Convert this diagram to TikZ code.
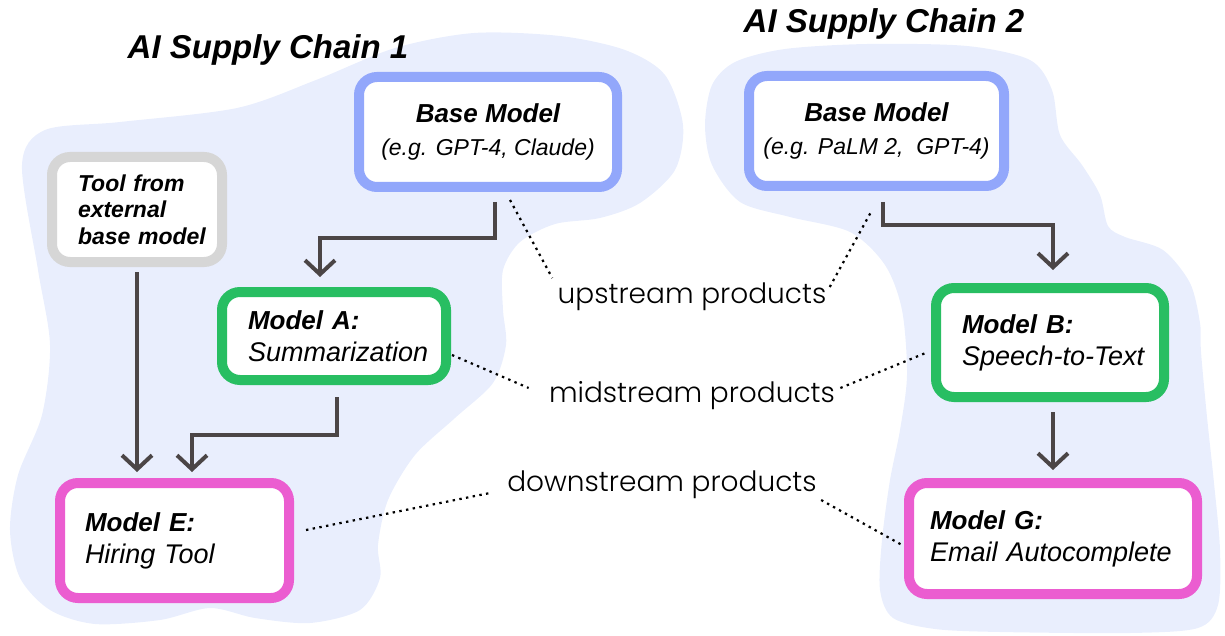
\documentclass[tikz,border=0pt]{standalone}
\usepackage{fontspec}
\setmainfont{Liberation Sans}
\newfontfamily\handfont{Poppins}[UprightFont=* Light]
\usetikzlibrary{arrows.meta}

\definecolor{blobbg}{HTML}{E9EEFD}
\definecolor{upblue}{HTML}{92A7FB}
\definecolor{midgreen}{HTML}{28BE62}
\definecolor{downpink}{HTML}{EB5DD0}
\definecolor{toolgray}{HTML}{D6D6D6}
\definecolor{arrowgray}{HTML}{4B4546}

\begin{document}
\begin{tikzpicture}[x=0.5pt,y=-0.5pt,
    box/.style={rounded corners=9pt,line width=5pt,fill=white,inner ysep=0pt},
    upbox/.style={box,draw=upblue,align=center,font=\fontsize{13}{16.5}\selectfont\itshape},
    toolbox/.style={box,draw=toolgray,align=left,inner xsep=13pt,font=\fontsize{11.5}{13.25}\selectfont\bfseries\itshape},
    midbox/.style={box,draw=midgreen,align=left,inner xsep=13pt,font=\fontsize{13.5}{16}\selectfont\itshape},
    downbox/.style={box,draw=downpink,align=left,inner xsep=12.5pt,font=\fontsize{13.5}{16}\selectfont\itshape},
    flow/.style={draw=arrowgray,line width=2pt,-{Straight Barb[length=7pt,width=15pt]}},
    dots/.style={dash pattern=on 1.2pt off 2.2pt,line width=1.1pt},
    stage/.style={font=\handfont\fontsize{14}{16}\selectfont,inner sep=0pt,anchor=base},
    chain/.style={font=\fontsize{16.5}{20}\selectfont\bfseries\itshape}]

  \useasboundingbox (0,0) rectangle (1225,636);

  % the two supply chains
  \fill[blobbg] plot[smooth cycle] coordinates {
    (22,165) (45,130) (120,122) (237,108) (316,80) (395,48) (474,33) (560,36)
    (625,50) (665,75) (683,125) (675,170) (640,203) (600,218) (555,224) (520,242)
    (503,270) (503,310) (506,345) (493,383) (455,418) (415,455) (388,500) (378,545)
    (380,578) (360,610) (310,623) (255,618) (210,608) (160,620) (95,624) (50,610)
    (20,578) (10,530) (18,475) (42,415) (50,345) (38,270)};
  \fill[blobbg] plot[smooth cycle] coordinates {
    (712,85) (735,62) (785,49) (867,44) (967,46) (1030,60) (1052,90) (1060,135)
    (1082,165) (1100,195) (1108,226) (1125,237) (1163,250) (1190,283) (1200,323)
    (1201,352) (1207,417) (1214,483) (1220,550) (1218,605) (1198,628) (1130,633)
    (1000,632) (935,629) (893,618) (880,590) (882,540) (890,480) (900,430)
    (907,375) (902,310) (885,265) (850,232) (790,217) (740,202) (712,165) (705,125)};

  \node[chain] (title1) at (268,50) {AI Supply Chain 1};
  \node[chain] (title2) at (884,24) {AI Supply Chain 2};

  \node[upbox, minimum width=129pt, minimum height=55pt] (base1) at (488,132)
    {{\bfseries Base Model}\\{\fontsize{11.5}{14}\selectfont (e.g. GPT-4, Claude)}};
  \node[upbox, minimum width=127.5pt, minimum height=55pt] (base2) at (876.5,131)
    {{\bfseries Base Model}\\{\fontsize{11.5}{14}\selectfont (e.g. PaLM 2,~ GPT-4)}};
  \node[toolbox, text width=59pt, minimum height=52.5pt] (tool) at (137,209.5)
    {Tool from\\ external\\ base~model};

  \node[midbox, text width=86pt, minimum height=44pt] (modelA) at (334,336)
    {{\bfseries\fontsize{13}{16}\selectfont Model A:}\\ Summarization};
  \node[midbox, text width=88pt, minimum height=54.5pt] (modelB) at (1050,342.5)
    {{\bfseries\fontsize{13}{16}\selectfont Model B:}\\ \mbox{Speech-to-Text}};
  \node[downbox, text width=89.5pt, minimum height=57.5pt] (modelE) at (174.5,540.5)
    {{\bfseries\fontsize{13}{16}\selectfont Model E:}\\ Hiring Tool};
  \node[downbox, inner xsep=10.5pt, text width=123pt, minimum height=55.5pt] (modelG) at (1053,538.5)
    {{\bfseries\fontsize{13}{16}\selectfont Model G:}\\ Email~Autocomplete};

  \node[stage] (uplabel) at (692,303) {upstream products};
  \node[stage] (midlabel) at (692,402) {midstream products};
  \node[stage] (downlabel) at (662,491) {downstream products};

  % model flow
  \draw[flow, shorten <=5pt, shorten >=5pt] ([xshift=3.5pt]base1.south) -- ++(0,-23pt) -| ([xshift=-7pt]modelA.north);
  \draw[flow, shorten <=2.5pt, shorten >=3pt] (tool.south) -- (tool.south |- modelE.north);
  \draw[flow, shorten <=6pt, shorten >=3pt] ([xshift=1.5pt]modelA.south) -- ++(0,-25pt) -| ([xshift=8.75pt]modelE.north);
  \draw[flow, shorten <=5.5pt, shorten >=6.5pt] ([xshift=3.25pt]base2.south) -- ++(0,-17pt) -| ([xshift=1.5pt]modelB.north);
  \draw[flow, shorten <=5pt, shorten >=4pt] ([xshift=1.5pt]modelB.south) -- (modelG.north);

  % stage pointers
  \draw[dots] ([xshift=11pt,yshift=-4pt]base1.south) -- ([xshift=-2.5pt,yshift=12.5pt]uplabel.base west);
  \draw[dots] ([xshift=1.5pt,yshift=8pt]uplabel.base east) -- ([xshift=-2.75pt,yshift=-10.5pt]base2.south);
  \draw[dots] ([xshift=0.5pt,yshift=-9.5pt]modelA.east) -- ([xshift=-10pt,yshift=7pt]midlabel.base west);
  \draw[dots] ([xshift=2.5pt,yshift=7pt]midlabel.base east) -- ([xshift=-1.5pt,yshift=-4.75pt]modelB.west);
  \draw[dots] ([xshift=6pt,yshift=5.25pt]modelE.east) -- ([xshift=-8.5pt,yshift=-1pt]downlabel.base west);
  \draw[dots] ([xshift=2pt,yshift=-4.5pt]downlabel.base east) -- ([xshift=-1pt,yshift=-3.25pt]modelG.west);
\end{tikzpicture}
\end{document}
